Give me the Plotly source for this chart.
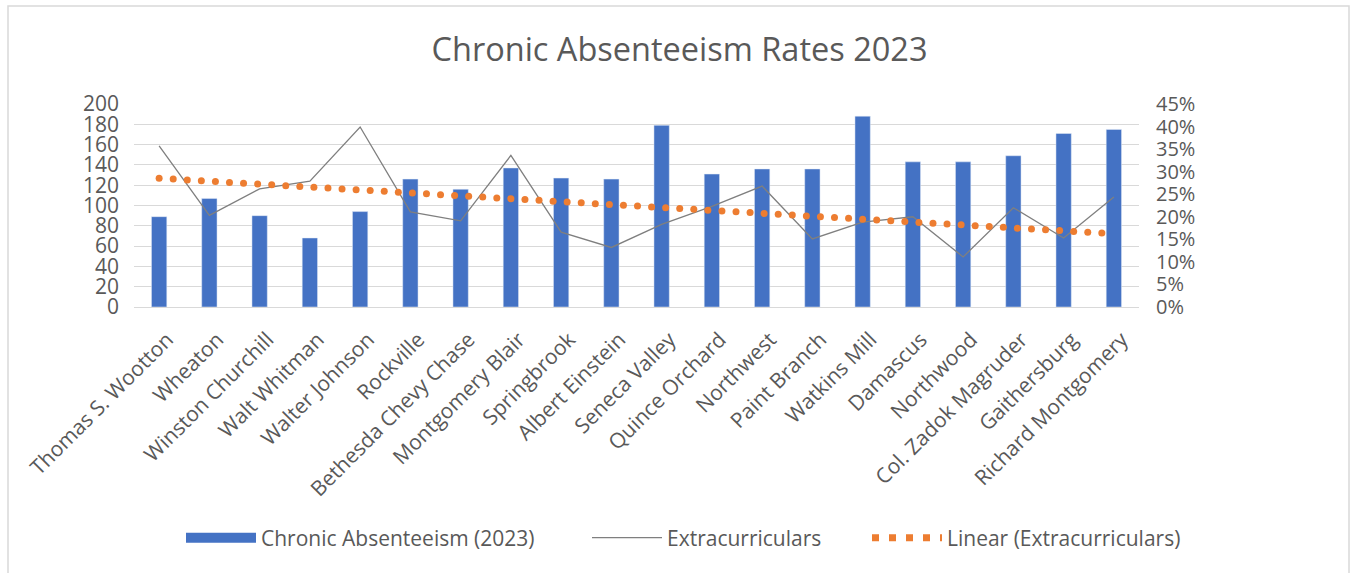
import numpy as np
import plotly.graph_objects as go

schools = ["Thomas S. Wootton", "Wheaton", "Winston Churchill", "Walt Whitman", "Walter Johnson",
           "Rockville", "Bethesda Chevy Chase", "Montgomery Blair", "Springbrook", "Albert Einstein",
           "Seneca Valley", "Quince Orchard", "Northwest", "Paint Branch", "Watkins Mill",
           "Damascus", "Northwood", "Col. Zadok Magruder", "Gaithersburg", "Richard Montgomery"]
absenteeism = [89, 107, 90, 68, 94, 126, 116, 137, 127, 126,
               179, 131, 136, 136, 188, 143, 143, 149, 171, 175]
extracurriculars = [0.357, 0.203, 0.262, 0.279, 0.399, 0.211, 0.191, 0.336, 0.166, 0.132,
                    0.183, 0.223, 0.268, 0.151, 0.188, 0.200, 0.111, 0.220, 0.153, 0.244]

idx = np.arange(len(schools))
slope, intercept = np.polyfit(idx, extracurriculars, 1)
trend_x = np.arange(0, len(schools) - 1 + 1e-9, 0.28)
trend_y = slope * trend_x + intercept

W, H = 1351, 573
ml, mr, mt, mb = 134, 212, 104, 266
pw, ph = W - ml - mr, H - mt - mb

FONT = "Open Sans"
TXT = "#595959"
GRID = "#D9D9D9"
BLUE = "#4472C4"
ORANGE = "#ED7D31"


def px_x(x):
    return (x - ml) / pw


def px_y(y):
    return (mt + ph - y) / ph


fig = go.Figure()
fig.add_trace(go.Bar(x=idx, y=absenteeism, name="Chronic Absenteeism (2023)",
                     marker=dict(color=BLUE), width=0.305, showlegend=False))
fig.add_trace(go.Scatter(x=idx, y=extracurriculars, name="Extracurriculars", mode="lines",
                         line=dict(color="#7F7F7F", width=1.3), yaxis="y2", legend="legend2"))
fig.add_trace(go.Scatter(x=trend_x, y=trend_y, mode="markers", showlegend=False,
                         marker=dict(color=ORANGE, size=7), yaxis="y2", hoverinfo="skip"))
# legend entries
fig.add_trace(go.Scatter(x=[None], y=[None], mode="lines", name="Chronic Absenteeism (2023)",
                         line=dict(color=BLUE, width=14), legend="legend"))
fig.add_trace(go.Scatter(x=[None], y=[None], mode="lines", name="Linear (Extracurriculars)",
                         line=dict(color=ORANGE, width=7, dash="7px,10px"), yaxis="y2",
                         legend="legend3"))

leg_common = dict(orientation="h", xanchor="left", yanchor="middle", y=px_y(538),
                  font=dict(size=21, color=TXT, family=FONT), itemwidth=70,
                  bgcolor="rgba(0,0,0,0)", borderwidth=0)

fig.update_layout(
    width=W, height=H,
    margin=dict(l=ml, r=mr, t=mt, b=mb),
    paper_bgcolor="white", plot_bgcolor="white",
    font=dict(family=FONT, color=TXT, size=20),
    title=dict(text="Chronic Absenteeism Rates 2023", x=0.5 + 4 / W, xanchor="center",
               y=1 - 50 / H, yanchor="middle", font=dict(size=32.5, color=TXT, family=FONT)),
    xaxis=dict(range=[-0.5, len(schools) - 0.5], tickmode="array", tickvals=list(idx),
               ticktext=schools, tickangle=-45, showgrid=False, zeroline=False,
               showline=True, linecolor=GRID, linewidth=1, ticks="",
               tickfont=dict(size=21, color=TXT), ticklabelstandoff=11, ticklabelshift=8),
    yaxis=dict(range=[0, 200], dtick=20, showgrid=True, gridcolor=GRID, gridwidth=1,
               zeroline=False, showline=False, ticks="", tickfont=dict(size=21, color=TXT),
               ticklabelstandoff=14),
    yaxis2=dict(range=[0, 0.45], dtick=0.05, tickformat=".0%", overlaying="y", side="right",
                showgrid=False, zeroline=False, showline=False, ticks="",
                tickfont=dict(size=20, color=TXT), ticklabelstandoff=16),
    legend=dict(x=px_x(181), **leg_common),
    legend2=dict(x=px_x(587), **leg_common),
    legend3=dict(x=px_x(867), **leg_common),
    showlegend=True,
)

fig.add_shape(type="rect", xref="paper", yref="paper",
              x0=px_x(8), x1=px_x(1349), y0=px_y(600), y1=px_y(6),
              line=dict(color=GRID, width=1.5), fillcolor="rgba(0,0,0,0)", layer="below")

fig.write_html("out.html", config={"displayModeBar": False},
               post_script="document.body.style.margin='0px';document.body.style.overflow='hidden';")
